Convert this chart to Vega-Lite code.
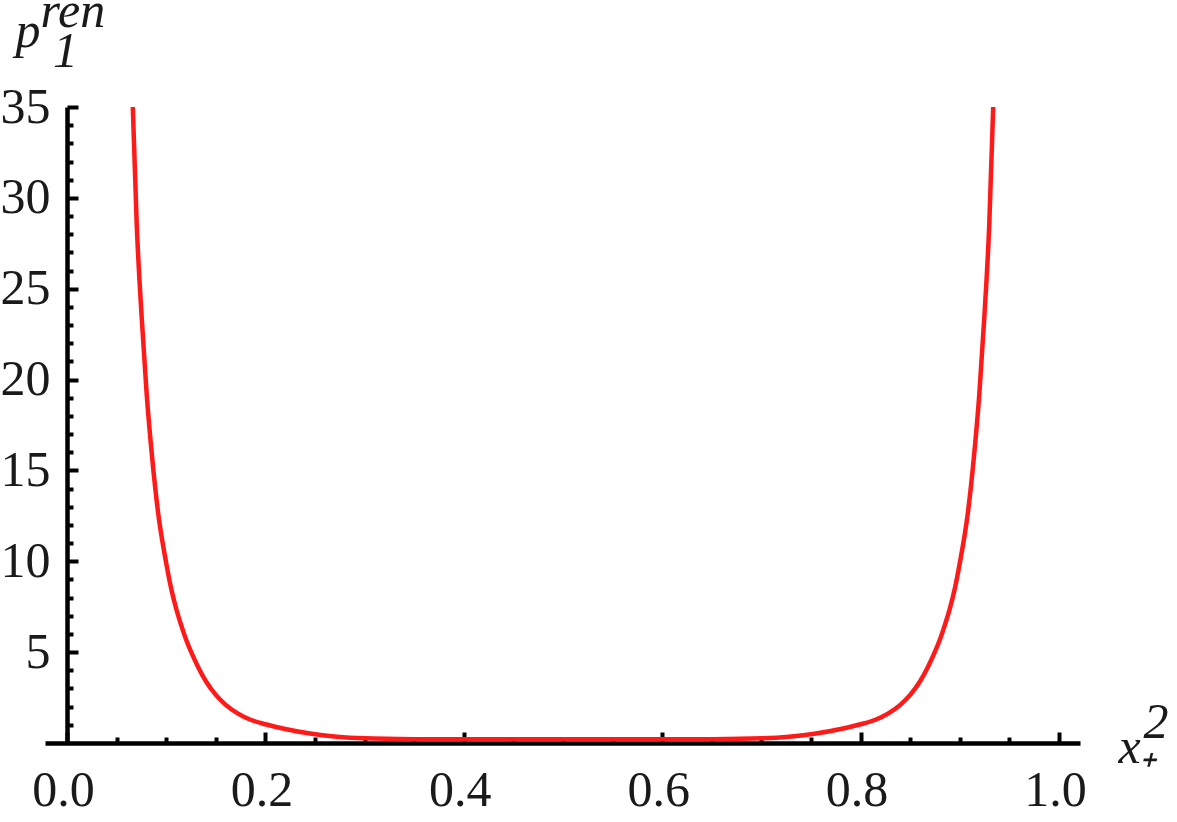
{
  "$schema": "https://vega.github.io/schema/vega-lite/v6.json",
  "autosize": "none",
  "padding": {"left": 45, "top": 107, "right": 97, "bottom": 79},
  "width": 1035,
  "height": 636,
  "background": "white",
  "config": {"view": {"stroke": null}},
  "data": {"values": [
    {"x": 0.0663, "p": 35.0}, {"x": 0.0703, "p": 28.5}, {"x": 0.0753, "p": 23.4}, {"x": 0.0803, "p": 19.2},
    {"x": 0.0860, "p": 15.6}, {"x": 0.0920, "p": 12.6}, {"x": 0.1000, "p": 9.9}, {"x": 0.1050, "p": 8.5},
    {"x": 0.1100, "p": 7.4}, {"x": 0.1150, "p": 6.5}, {"x": 0.1200, "p": 5.7}, {"x": 0.1260, "p": 4.9},
    {"x": 0.1320, "p": 4.2}, {"x": 0.1400, "p": 3.4}, {"x": 0.1500, "p": 2.65}, {"x": 0.1600, "p": 2.1},
    {"x": 0.1720, "p": 1.63}, {"x": 0.1850, "p": 1.28}, {"x": 0.2000, "p": 1.03}, {"x": 0.2200, "p": 0.77},
    {"x": 0.2450, "p": 0.52}, {"x": 0.2720, "p": 0.35}, {"x": 0.3000, "p": 0.26}, {"x": 0.3500, "p": 0.21},
    {"x": 0.4000, "p": 0.2}, {"x": 0.4500, "p": 0.2}, {"x": 0.5000, "p": 0.2},
    {"x": 0.5500, "p": 0.2}, {"x": 0.6000, "p": 0.2}, {"x": 0.6500, "p": 0.21}, {"x": 0.7000, "p": 0.26},
    {"x": 0.7280, "p": 0.35}, {"x": 0.7550, "p": 0.52}, {"x": 0.7800, "p": 0.77}, {"x": 0.8000, "p": 1.03},
    {"x": 0.8150, "p": 1.28}, {"x": 0.8280, "p": 1.63}, {"x": 0.8400, "p": 2.1}, {"x": 0.8500, "p": 2.65},
    {"x": 0.8600, "p": 3.4}, {"x": 0.8680, "p": 4.2}, {"x": 0.8740, "p": 4.9}, {"x": 0.8800, "p": 5.7},
    {"x": 0.8850, "p": 6.5}, {"x": 0.8900, "p": 7.4}, {"x": 0.8950, "p": 8.5}, {"x": 0.9000, "p": 9.9},
    {"x": 0.9080, "p": 12.6}, {"x": 0.9140, "p": 15.6}, {"x": 0.9197, "p": 19.2}, {"x": 0.9247, "p": 23.4},
    {"x": 0.9297, "p": 28.5}, {"x": 0.9337, "p": 35.0}
  ]},
  "mark": {"type": "line", "color": "#ff1a1a", "strokeWidth": 4.5, "interpolate": "monotone", "clip": true},
  "encoding": {
    "x": {
      "field": "x", "type": "quantitative",
      "scale": {"domain": [-0.0222, 1.0212], "nice": false, "zero": false},
      "axis": {
        "values": [0, 0.05, 0.1, 0.15, 0.2, 0.25, 0.3, 0.35, 0.4, 0.45, 0.5, 0.55, 0.6, 0.65, 0.7, 0.75, 0.8, 0.85, 0.9, 0.95, 1.0],
        "labelExpr": "round(datum.value*20) % 4 == 0 ? format(datum.value, '.1f') : ''",
        "grid": false,
        "domainColor": "black", "domainWidth": 4.5,
        "tickColor": "black", "tickWidth": 4,
        "tickSize": {"condition": {"test": "round(datum.value*20) % 4 == 0", "value": -11}, "value": -6},
        "labelFont": "Liberation Serif", "labelFontSize": 50, "labelColor": "#1a1a1a",
        "labelPadding": 33, "labelOffset": -4, "labelFlush": false, "labelOverlap": false,
        "title": ["\u200b\u20022", "x\u208a"],
        "titleFont": "Liberation Serif", "titleFontSize": 50, "titleFontStyle": "italic", "titleFontWeight": "normal",
        "titleColor": "#1a1a1a", "titleAlign": "left", "titleBaseline": "alphabetic", "titleAngle": 0,
        "titleLineHeight": 25, "titleX": 1073, "titleY": -6
      }
    },
    "y": {
      "field": "p", "type": "quantitative",
      "scale": {"domain": [0, 35], "nice": false},
      "axis": {
        "offset": -22,
        "values": [1,2,3,4,5,6,7,8,9,10,11,12,13,14,15,16,17,18,19,20,21,22,23,24,25,26,27,28,29,30,31,32,33,34,35],
        "labelExpr": "datum.value % 5 == 0 ? datum.label : ''",
        "grid": false,
        "domainColor": "black", "domainWidth": 4.5,
        "tickColor": "black", "tickWidth": 4,
        "tickSize": {"condition": {"test": "datum.value % 5 == 0", "value": -11}, "value": -6},
        "labelFont": "Liberation Serif", "labelFontSize": 50, "labelColor": "#1a1a1a",
        "labelPadding": 28, "labelFlush": false, "labelOverlap": false,
        "title": ["\u200b\u2002ren", "p", "\u200b\u2002\u00a01"],
        "titleFont": "Liberation Serif", "titleFontSize": 50, "titleFontStyle": "italic", "titleFontWeight": "normal",
        "titleColor": "#1a1a1a", "titleAlign": "left", "titleBaseline": "alphabetic", "titleAngle": 0,
        "titleLineHeight": 20, "titleX": -52, "titleY": -81
      }
    }
  }
}
